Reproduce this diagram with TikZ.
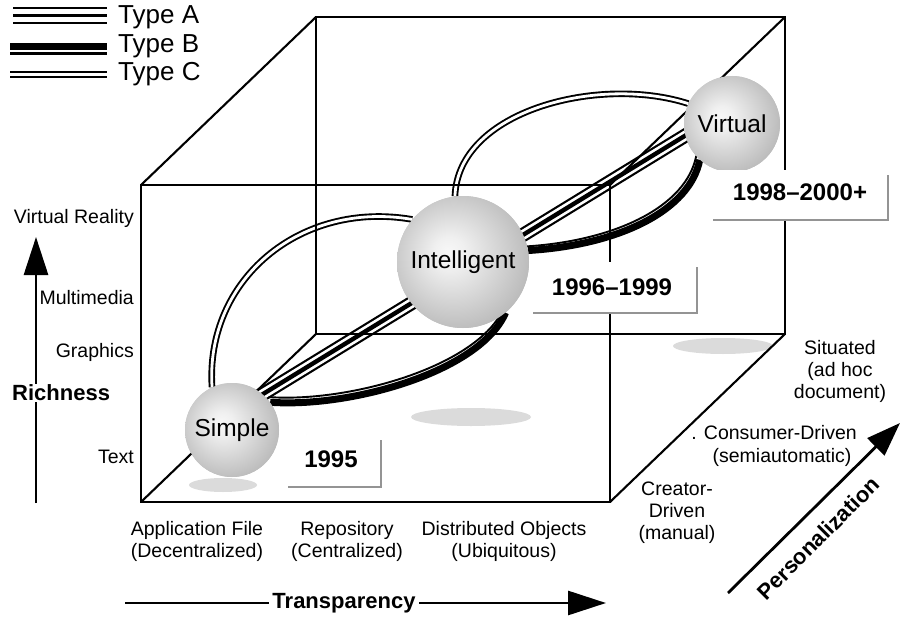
\documentclass[tikz,border=0pt]{standalone}
\usepackage{fontspec}
\setmainfont{Liberation Sans}
\usetikzlibrary{calc,arrows.meta}

% sphere shading: bright core, grey rim
\pgfdeclareradialshading{orb}{\pgfpoint{-6bp}{4bp}}{%
  color(0bp)=(black!3); color(6bp)=(black!6); color(50bp)=(black!47)}

\tikzset{
  lbl/.style={font=\fontsize{19.5}{22}\selectfont, align=center, inner sep=0},
  legendtxt/.style={font=\fontsize{26}{28}\selectfont, anchor=west, inner sep=0},
  bold/.style={font=\fontsize{22}{24}\selectfont\bfseries, inner sep=1},
  year/.style={font=\fontsize{24}{26}\selectfont\bfseries, inner sep=0},
  orb/.style={circle, shading=orb, minimum size=#1, inner sep=0,
    font=\fontsize{24.5}{26}\selectfont},
  edge/.style={line width=2.1pt},
  typeA/.style={line width=4.4pt,
    preaction={draw, line width=14.2pt},
    preaction={draw, white, line width=9.8pt}},
  typeBthick/.style={line width=7pt},
  typeBthin/.style={line width=1.9pt},
  typeC/.style={double, double distance=2.8pt, line width=1.9pt},
  shadowdisc/.style={fill=black!14, draw=none},
  tag/.style={line width=2.8pt, draw=black!42},
  axis/.style={line width=2.8pt, -{Triangle[length=#1, width=24pt]}},
}

\begin{document}
\begin{tikzpicture}[x=1pt, y=-1pt]
\useasboundingbox (0,0) rectangle (900,618);

% ---- legend ----
\coordinate (la1) at (13,8);   \coordinate (la2) at (107,8);
\draw[line width=2.6pt] (la1) -- (la2);
\draw[line width=3.6pt] ($(la1)+(0,7.5)$) -- ($(la2)+(0,7.5)$);
\draw[line width=2.6pt] ($(la1)+(0,15)$) -- ($(la2)+(0,15)$);
\node[legendtxt] (tA) at (118,17) {Type A};
\draw[line width=7.4pt] (10,46.3) -- (107,46.3);
\draw[line width=2.4pt] (10,53.5) -- (107,53.5);
\node[legendtxt] (tB) at (118,46) {Type B};
\draw[typeC, line width=2.2pt] (10,74.5) -- (107,74.5);
\node[legendtxt] (tC) at (118,74) {Type C};

% ---- floor shadows ----
\fill[shadowdisc] (223,485) ellipse (34 and 7);
\fill[shadowdisc] (471,417) ellipse (60 and 9);
\fill[shadowdisc] (723,346) ellipse (50 and 8);

% ---- spheres (placed first so connectors can refer to them) ----
\path (232,430) node[orb=94pt] (S) {}
      (463,262) node[orb=132pt] (I) {}
      (732,124) node[orb=96pt] (V) {};

% ---- connectors ----
% type A bundle running through all three stages
\draw[typeA] ($(S)+(0,-17)$) -- ($(V)+(0,-17)$);
% type C upper arcs
\draw[typeC] (S.115) .. controls (205,280) and (300,200) .. (I.140);
\draw[typeC] (I.97) .. controls (458,110) and (600,75) .. (V.155);
% type B lower arcs: heavy stroke with a light companion on the inner side
\draw[typeBthick] (S.36) .. controls (350,408) and (480,372) .. (I.-50);
\draw[typeBthin, transform canvas={shift={(-1.5pt,5.2pt)}}]
  (S.36) .. controls (350,408) and (480,372) .. (I.-50);
\draw[typeBthick] (I.10) .. controls (620,245) and (690,210) .. (V.228);
\draw[typeBthin, transform canvas={shift={(-3.5pt,4pt)}}]
  (I.10) .. controls (620,245) and (690,210) .. (V.228);

% ---- cube ----
\coordinate (F1) at (141,185); \coordinate (F2) at (610,185);
\coordinate (F3) at (610,502); \coordinate (F4) at (141,502);
\coordinate (B1) at (316,17);  \coordinate (B2) at (785,17);
\coordinate (B3) at (785,334); \coordinate (B4) at (316,334);
\draw[edge] (F1) -- (F2) -- (F3) -- (F4) -- cycle;
\draw[edge] (B1) -- (B2) -- (B3) -- (B4) -- cycle;
\draw[edge] (F1) -- (B1) (F2) -- (B2) (F3) -- (B3) (F4) -- (B4);

% ---- spheres on top ----
\path (232,430) node[orb=94pt] {Simple}
      (463,262) node[orb=132pt] {Intelligent}
      (732,124) node[orb=96pt] {Virtual};

% ---- year tags ----
\fill[white] (288,440) rectangle (381,487);
\draw[tag] (381,440) -- (381,487) -- (288,487);
\node[year] (y1) at (331,459) {1995};
\fill[white] (533,262) rectangle (697,313);
\draw[tag] (697,267) -- (697,313) -- (533,313);
\node[year] (y2) at (612,287) {1996–1999};
\fill[white] (713,170) rectangle (888,220);
\draw[tag] (888,175) -- (888,220) -- (713,220);
\node[year] (y3) at (800,192) {1998–2000+};

% ---- richness axis ----
\coordinate (r0) at (36,503);
\coordinate (r1) at (36,237);
\draw[axis=38pt] (r0) -- (r1);
\node[bold, fill=white, anchor=west, inner sep=1] (rich) at (11,393) {Richness};
\node[lbl, anchor=east] (vr) at (134,218) {Virtual Reality};
\node[lbl, anchor=east] (mm) at (134,298) {Multimedia};
\node[lbl, anchor=east] (gr) at (134,352) {Graphics};
\node[lbl, anchor=east] (tx) at (134,457) {Text};

% ---- transparency axis ----
\coordinate (t0) at (125,603);
\coordinate (t1) at (606,603);
\draw[axis=38pt] (t0) -- (t1);
\node[bold, fill=white, inner sep=3] (transp) at (344,603) {Transparency};
\node[lbl] (app) at (197,541) {Application File\\(Decentralized)};
\node[lbl] (rep) at (347,541) {Repository\\(Centralized)};
\node[lbl] (dis) at (504,541) {Distributed Objects\\(Ubiquitous)};

% ---- personalization axis ----
\coordinate (p0) at (728,593);
\coordinate (p1) at (900,423);
\draw[axis=34pt] (p0) -- (p1);
\node[bold, rotate=45] (pers) at (818,538) {Personalization};
\node[lbl] (cre) at (677,513) {Creator-\\Driven\\(manual)};
\node[lbl] (con1) at (774,433) {. Consumer-Driven};
\node[lbl] (con2) at (782,457) {(semiautomatic)};
\node[lbl] (sit) at (840,371) {Situated\\(ad hoc\\document)};
\end{tikzpicture}
\end{document}
